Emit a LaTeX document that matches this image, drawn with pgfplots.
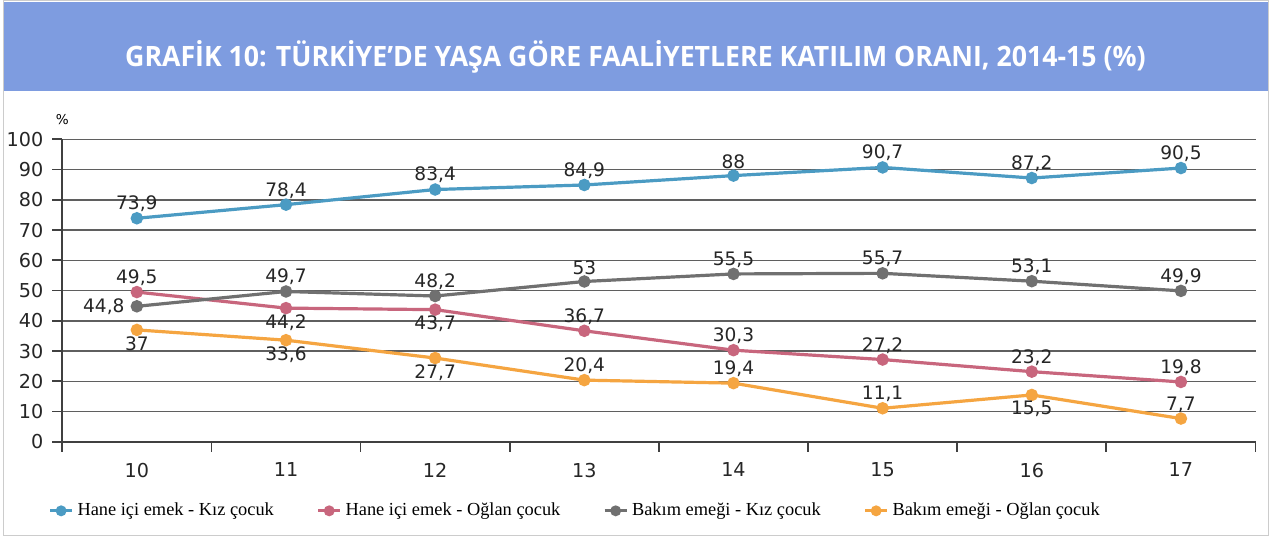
\documentclass[border=0pt]{standalone}
\usepackage{pgfplots}
\usepackage{pgfplotstable}
\pgfplotsset{compat=1.18}
\usepackage{fontspec}
\setmainfont{DejaVu Sans}
\newfontfamily\legfont{Liberation Serif}
\newfontfamily\titlefont{Open Sans}
\definecolor{banner}{RGB}{126,156,224}
\definecolor{cblue}{RGB}{75,155,195}
\definecolor{cpink}{RGB}{200,102,125}
\definecolor{cgrey}{RGB}{112,112,112}
\definecolor{corange}{RGB}{245,165,65}
\definecolor{gridc}{RGB}{95,95,95}

\pgfplotstableread{
x y
10 73.9
11 78.4
12 83.4
13 84.9
14 88.0
15 90.7
16 87.2
17 90.5
}\tblue
\pgfplotstableread{
x y
10 49.5
11 44.2
12 43.7
13 36.7
14 30.3
15 27.2
16 23.2
17 19.8
}\tpink
\pgfplotstableread{
x y
10 44.8
11 49.7
12 48.2
13 53.0
14 55.5
15 55.7
16 53.1
17 49.9
}\tgrey
\pgfplotstableread{
x y
10 37.0
11 33.6
12 27.7
13 20.4
14 19.4
15 11.1
16 15.5
17 7.7
}\torange
% value labels, grouped by where they sit relative to the point
\pgfplotstableread{
x y lab
10 73.9 73,9
11 78.4 78,4
12 83.4 83,4
13 84.9 84,9
14 88.0 88
15 90.7 90,7
16 87.2 87,2
17 90.5 90,5
10 49.5 49,5
13 36.7 36,7
14 30.3 30,3
15 27.2 27,2
16 23.2 23,2
17 19.8 19,8
11 49.7 49,7
12 48.2 48,2
13 53.0 53
14 55.5 55,5
15 55.7 55,7
16 53.1 53,1
17 49.9 49,9
13 20.4 20,4
14 19.4 19,4
15 11.1 11,1
17 7.7 7,7
}\labS
\pgfplotstableread{
x y lab
11 44.2 44,2
12 43.7 43,7
10 37.0 37
11 33.6 33,6
12 27.7 27,7
16 15.5 15,5
}\labN
\pgfplotstableread{
x y lab
10 44.8 44,8
}\labE

\pgfplotsset{
  labelplot/.style={forget plot, draw=none, mark=none, only marks,
    nodes near coords, point meta=explicit symbolic,
    every node near coord/.append style={anchor=#1, font=\fontsize{9.3}{11}\selectfont, text=black!85, inner sep=3pt}},
}

\begin{document}
\begin{tikzpicture}
% background frame and banner (pixel -> pt: ((px-60)*0.5, (443-py)*0.5))
\draw[draw=black!20, line width=0.5pt, fill=white] (-29.5pt,-47pt) rectangle (604pt,221pt);
\fill[banner] (-29pt,175.5pt) rectangle (603.5pt,220pt);
\node[text=white, anchor=base] at (287pt,188pt)
  {\resizebox{511pt}{13pt}{\titlefont\bfseries GRAFİK 10: TÜRKİYE’DE YAŞA GÖRE FAALİYETLERE KATILIM ORANI, 2014-15 (\%)}};
\node[anchor=base, font=\fontsize{6.8}{7}\selectfont] at (0pt,159pt) {\%};
\begin{axis}[
  at={(0pt,0pt)}, anchor=origin,
  scale only axis, width=597.5pt, height=151.5pt,
  xmin=9.5, xmax=17.5, ymin=0, ymax=100,
  axis x line*=bottom, axis y line*=left,
  axis line style={line width=0.9pt, draw=black!75},
  xtick={10,...,17}, minor xtick={9.5,10.5,...,17.5},
  ytick={0,10,...,100},
  tick align=outside, tick pos=left,
  major tick length=5pt, minor tick length=5pt,
  x tick style={draw=none}, minor x tick style={draw=black!75, line width=0.9pt},
  y tick style={draw=black!75, line width=0.9pt},
  ymajorgrids, grid style={draw=gridc, line width=0.7pt},
  /pgf/number format/assume math mode=true,
  ticklabel style={font=\fontsize{9.6}{11}\selectfont, text=black!85},
  yticklabel style={xshift=-1pt},
  xticklabel style={yshift=-2pt},
  clip=false,
  legend columns=4,
  legend style={at={(-0.0167,-0.228)}, anchor=west, draw=none, fill=none,
    font=\legfont\fontsize{9.2}{11}\selectfont,
    /tikz/every even column/.append style={column sep=19.5pt}},
  legend cell align=left,
  legend image code/.code={\draw[#1, line width=1.4pt, mark size=2pt, mark repeat=2, mark phase=2] plot coordinates {(0pt,0pt) (5.5pt,0pt) (11pt,0pt)};},
]
\addplot[color=cblue, line width=1.6pt, mark=*, mark size=2.3pt, mark options={fill=cblue}] table[x=x, y=y] {\tblue};
\addlegendentry{Hane içi emek - Kız çocuk}
\addplot[color=cpink, line width=1.6pt, mark=*, mark size=2.3pt, mark options={fill=cpink}] table[x=x, y=y] {\tpink};
\addlegendentry{Hane içi emek - Oğlan çocuk}
\addplot[color=cgrey, line width=1.6pt, mark=*, mark size=2.3pt, mark options={fill=cgrey}] table[x=x, y=y] {\tgrey};
\addlegendentry{Bakım emeği - Kız çocuk}
\addplot[color=corange, line width=1.6pt, mark=*, mark size=2.3pt, mark options={fill=corange}] table[x=x, y=y] {\torange};
\addlegendentry{Bakım emeği - Oğlan çocuk}
\addplot[labelplot=south] table[x=x, y=y, meta=lab] {\labS};
\addplot[labelplot=north] table[x=x, y=y, meta=lab] {\labN};
\addplot[labelplot=east, every node near coord/.append style={inner xsep=6pt}] table[x=x, y=y, meta=lab] {\labE};
\end{axis}
\end{tikzpicture}
\end{document}
